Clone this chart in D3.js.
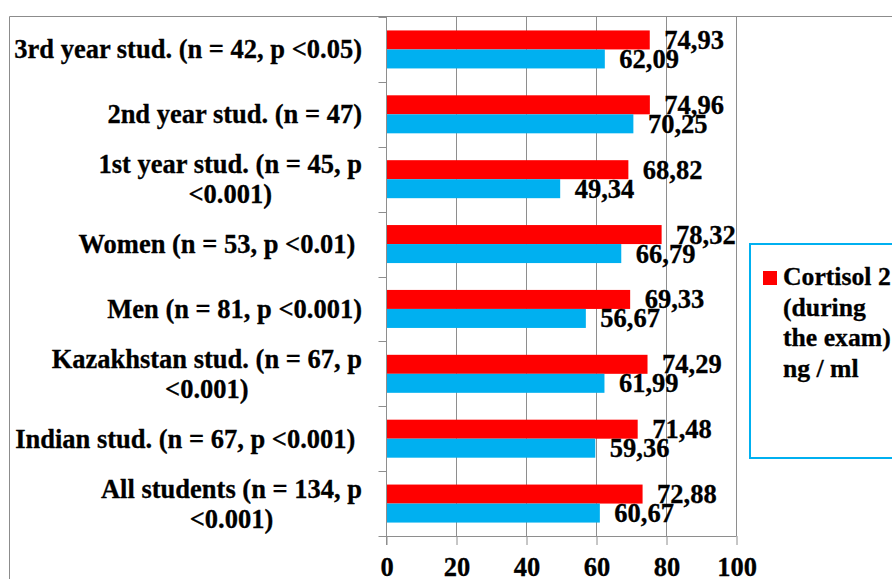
<!DOCTYPE html>
<html>
<head>
<meta charset="utf-8">
<script src="https://cdn.jsdelivr.net/npm/d3@7"></script>
<style>
  html, body { margin: 0; padding: 0; background: #fff; }
  svg { display: block; }
  text { font-family: "Liberation Serif", "Times New Roman", serif; font-weight: bold; fill: #000; stroke: #000; stroke-width: 0.3px; }
</style>
</head>
<body>
<svg id="chart" width="892" height="579"></svg>
<script>
// Group labels, top to bottom; each entry lists the lines of the label
const categoryLines = [
  ["3rd year stud. (n = 42, p <0.05)"],
  ["2nd year stud. (n = 47)"],
  ["1st year stud. (n = 45, p", "<0.001)"],
  ["Women (n = 53, p <0.01) "],
  ["Men (n = 81, p <0.001)"],
  ["Kazakhstan stud. (n = 67, p", "<0.001)"],
  ["Indian stud. (n = 67, p <0.001) "],
  ["All students (n = 134, p", "<0.001)"]
];

// Cortisol during the exam, ng / ml
const cortisol2 = [74.93, 74.96, 68.82, 78.32, 69.33, 74.29, 71.48, 72.88];
// Cortisol before the exam, ng / ml
const cortisol1 = [62.09, 70.25, 49.34, 66.79, 56.67, 61.99, 59.36, 60.67];

const xTicks = [0, 20, 40, 60, 80, 100];

const seriesNames = ["Cortisol 2", "Cortisol 1"];
const seriesColors = ["#ff0000", "#00b0f0"];
const legendLines = ["Cortisol 2", "(during", "the exam)", "ng / ml"];

const svg = d3.select("#chart");
const fontSize = 26.5;

const plot = { left: 386.5, right: 736.5, top: 17, bottom: 536 };

const x = d3.scaleLinear().domain([0, 100]).range([plot.left, plot.right]);
const y = d3.scaleBand()
  .domain(d3.range(categoryLines.length))
  .range([plot.top, plot.bottom]);
const ySeries = d3.scaleBand()
  .domain(seriesNames)
  .range([0, y.bandwidth()])
  .paddingInner(0)
  .paddingOuter(0.707);

// Outer chart frame
svg.append("path")
  .attr("d", "M9.5,579 V16.5 H892")
  .attr("fill", "none")
  .attr("stroke", "#8c8c8c")
  .attr("stroke-width", 1);

// Vertical gridlines
svg.append("g")
  .selectAll("line")
  .data(xTicks.filter(t => t > 0))
  .join("line")
  .attr("x1", d => x(d))
  .attr("x2", d => x(d))
  .attr("y1", plot.top)
  .attr("y2", plot.bottom)
  .attr("stroke", "#8e8e8e")
  .attr("stroke-width", 1);

// Bars
const rows = categoryLines.map((lines, i) => ({
  i,
  values: [
    { s: seriesNames[0], v: cortisol2[i], color: seriesColors[0] },
    { s: seriesNames[1], v: cortisol1[i], color: seriesColors[1] }
  ]
}));

const rowG = svg.append("g")
  .selectAll("g")
  .data(rows)
  .join("g")
  .attr("transform", d => `translate(0,${y(d.i)})`);

rowG.selectAll("rect")
  .data(d => d.values)
  .join("rect")
  .attr("x", x(0))
  .attr("y", d => ySeries(d.s))
  .attr("width", d => x(d.v) - x(0) + 1)
  .attr("height", ySeries.bandwidth())
  .attr("fill", d => d.color);

// Value labels at the bar ends
rowG.selectAll("text.val")
  .data(d => d.values)
  .join("text")
  .attr("class", "val")
  .attr("x", d => x(d.v) + 15.5)
  .attr("y", d => ySeries(d.s) + ySeries.bandwidth() / 2 + 9)
  .attr("font-size", fontSize)
  .text(d => d3.format(".2f")(d.v).replace(".", ","));

// X axis
const xAxis = svg.append("g")
  .attr("transform", `translate(0,${plot.bottom})`)
  .call(d3.axisBottom(x).tickValues(xTicks).tickSize(9).tickSizeOuter(0).tickFormat(d3.format("d")));
xAxis.select(".domain").attr("stroke", "#8e8e8e").attr("d", `M${plot.left - 8},0.5H${plot.right}`);
xAxis.selectAll(".tick line").attr("stroke", "#8e8e8e");
xAxis.selectAll(".tick text")
  .attr("y", 40).attr("dy", 0)
  .attr("font-size", fontSize)
  .attr("font-family", null)
  .style("fill", "#000");

// Y axis line and category boundary ticks
const yAxis = svg.append("g");
yAxis.append("line")
  .attr("x1", plot.left).attr("x2", plot.left)
  .attr("y1", plot.top).attr("y2", plot.bottom + 9)
  .attr("stroke", "#8e8e8e");
yAxis.selectAll("line.tick")
  .data(d3.range(categoryLines.length))
  .join("line")
  .attr("class", "tick")
  .attr("x1", plot.left - 8).attr("x2", plot.left)
  .attr("y1", d => Math.round(y(d)) + 0.5)
  .attr("y2", d => Math.round(y(d)) + 0.5)
  .attr("stroke", "#8e8e8e");

// Category labels: block right-aligned, lines centred on each other
const labelRight = 362;
const lineGap = 30;
categoryLines.forEach((lines, i) => {
  const cy = y(i) + y.bandwidth() / 2;
  const g = svg.append("g");
  const texts = lines.map((line, k) =>
    g.append("text")
      .attr("xml:space", "preserve")
      .style("white-space", "pre")
      .attr("font-size", fontSize)
      .attr("y", cy + 9 - (lines.length - 1) * lineGap / 2 + k * lineGap)
      .text(line)
  );
  if (lines.length === 1) {
    texts[0].attr("x", labelRight).attr("text-anchor", "end");
  } else {
    const w = d3.max(texts, t => t.node().getComputedTextLength());
    texts.forEach(t => t.attr("x", labelRight - w / 2).attr("text-anchor", "middle"));
  }
});

// Legend
const legend = svg.append("g");
legend.append("rect")
  .attr("x", 750).attr("y", 244)
  .attr("width", 160).attr("height", 214)
  .attr("fill", "#fff")
  .attr("stroke", "#00b0f0")
  .attr("stroke-width", 2);
legend.append("rect")
  .attr("x", 763).attr("y", 271)
  .attr("width", 14).attr("height", 14)
  .attr("fill", seriesColors[0]);
legend.append("text")
  .attr("font-size", fontSize * 0.97)
  .selectAll("tspan")
  .data(legendLines)
  .join("tspan")
  .attr("x", 783)
  .attr("y", (d, k) => 285 + k * 30.7)
  .text(d => d);
</script>
</body>
</html>
